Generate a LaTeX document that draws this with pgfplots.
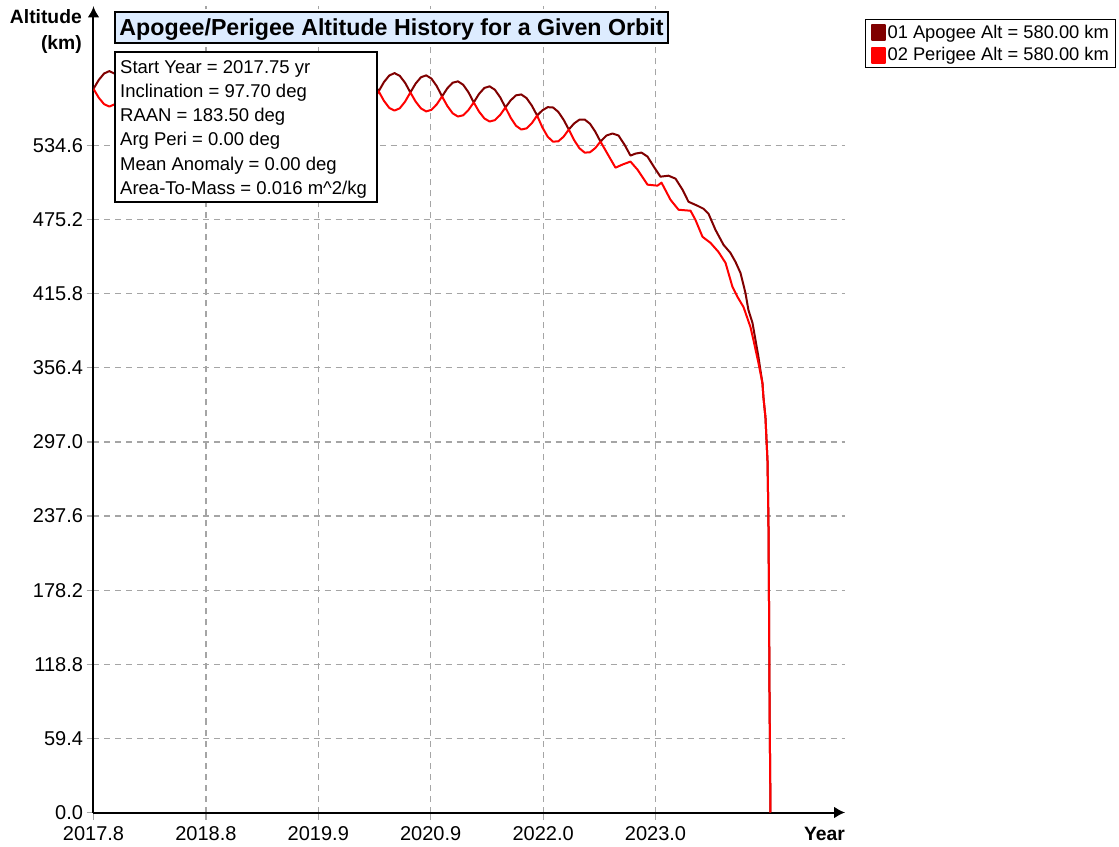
\documentclass[border=0pt]{standalone}
\usepackage{fontspec}
\setmainfont{Liberation Sans}
\usepackage{pgfplots}
\usepackage{pgfplotstable}
\pgfplotsset{compat=1.18}
\usetikzlibrary{arrows.meta}
\definecolor{apo}{RGB}{128,0,0}
\definecolor{peri}{RGB}{255,0,0}
\definecolor{titlebg}{RGB}{221,236,255}
\definecolor{gridgray}{RGB}{165,165,165}

\pgfplotstableread{
year alt
2017.750 580.0
2017.799 587.1
2017.849 592.3
2017.898 594.2
2017.947 592.2
2017.997 587.0
2018.046 579.9
2018.095 587.1
2018.145 592.4
2018.194 594.4
2018.243 592.4
2018.293 587.1
2018.342 579.8
2018.391 587.0
2018.441 592.3
2018.490 594.2
2018.539 592.2
2018.589 586.9
2018.638 579.6
2018.687 586.8
2018.737 592.1
2018.786 594.0
2018.835 592.0
2018.885 586.7
2018.934 579.4
2018.983 586.6
2019.033 591.9
2019.082 593.8
2019.131 591.8
2019.181 586.5
2019.230 579.2
2019.279 586.4
2019.329 591.7
2019.378 593.6
2019.427 591.6
2019.477 586.3
2019.526 579.0
2019.575 586.2
2019.625 591.5
2019.674 593.4
2019.723 591.4
2019.773 586.0
2019.822 578.7
2019.871 585.9
2019.921 591.2
2019.970 593.1
2020.019 591.1
2020.069 585.7
2020.118 578.4
2020.167 585.6
2020.217 590.8
2020.266 592.7
2020.315 590.7
2020.365 585.3
2020.414 578.0
2020.463 585.4
2020.513 590.7
2020.562 592.6
2020.611 590.4
2020.661 584.8
2020.710 577.1
2020.759 584.2
2020.809 589.3
2020.858 590.8
2020.907 588.2
2020.957 582.1
2021.006 573.9
2021.055 580.4
2021.105 584.9
2021.154 586.0
2021.203 583.3
2021.253 577.2
2021.302 569.1
2021.351 575.9
2021.401 580.7
2021.450 582.0
2021.499 579.3
2021.549 573.2
2021.598 565.1
2021.647 570.8
2021.697 574.8
2021.746 575.5
2021.795 572.6
2021.845 566.5
2021.894 558.6
2021.943 562.8
2021.993 565.3
2022.042 565.1
2022.091 561.6
2022.141 555.3
2022.190 547.4
2022.239 552.2
2022.289 555.3
2022.338 555.4
2022.387 552.1
2022.437 545.7
2022.486 537.7
2022.542 542.6
2022.598 544.2
2022.654 542.6
2022.710 535.3
2022.766 526.5
2022.813 528.1
2022.869 528.9
2022.925 525.7
2022.990 516.8
2023.046 509.6
2023.121 510.4
2023.187 508.0
2023.252 499.2
2023.308 489.5
2023.392 486.3
2023.448 483.9
2023.495 479.9
2023.560 467.0
2023.635 455.0
2023.700 448.5
2023.747 441.3
2023.794 432.4
2023.840 416.4
2023.868 402.7
2023.906 392.3
2023.934 378.6
2023.962 364.9
2023.980 354.5
2023.999 344.0
2024.008 332.8
2024.027 316.7
2024.037 298.2
2024.046 282.1
2024.055 233.9
2024.060 169.6
2024.065 91.6
2024.074 0.0
}\apogee

\pgfplotstableread{
year alt
2017.750 580.0
2017.799 572.9
2017.849 567.7
2017.898 565.8
2017.947 567.6
2017.997 572.8
2018.046 579.9
2018.095 572.6
2018.145 567.3
2018.194 565.4
2018.243 567.3
2018.293 572.6
2018.342 579.8
2018.391 572.5
2018.441 567.2
2018.490 565.2
2018.539 567.1
2018.589 572.4
2018.638 579.6
2018.687 572.3
2018.737 567.0
2018.786 565.0
2018.835 566.9
2018.885 572.2
2018.934 579.4
2018.983 572.1
2019.033 566.8
2019.082 564.8
2019.131 566.7
2019.181 572.0
2019.230 579.2
2019.279 571.9
2019.329 566.6
2019.378 564.6
2019.427 566.5
2019.477 571.8
2019.526 579.0
2019.575 571.7
2019.625 566.3
2019.674 564.4
2019.723 566.2
2019.773 571.5
2019.822 578.7
2019.871 571.4
2019.921 566.0
2019.970 564.1
2020.019 565.9
2020.069 571.2
2020.118 578.4
2020.167 571.1
2020.217 565.7
2020.266 563.7
2020.315 565.6
2020.365 570.8
2020.414 578.0
2020.463 570.4
2020.513 564.7
2020.562 562.6
2020.611 564.4
2020.661 569.8
2020.710 577.1
2020.759 569.8
2020.809 564.3
2020.858 561.9
2020.907 563.2
2020.957 567.6
2021.006 573.9
2021.055 566.3
2021.105 560.4
2021.154 557.8
2021.203 558.8
2021.253 563.1
2021.302 569.1
2021.351 561.8
2021.401 556.3
2021.450 553.8
2021.499 554.9
2021.549 559.1
2021.598 565.1
2021.647 556.8
2021.697 550.4
2021.746 547.4
2021.795 548.3
2021.845 552.5
2021.894 558.6
2021.943 549.1
2021.993 541.6
2022.042 537.7
2022.091 537.9
2022.141 541.6
2022.190 547.4
2022.239 539.0
2022.289 532.4
2022.338 528.9
2022.387 529.1
2022.437 532.5
2022.486 537.7
2022.561 526.5
2022.626 516.8
2022.691 519.3
2022.766 521.7
2022.832 515.2
2022.925 503.2
2023.018 502.4
2023.056 504.8
2023.140 491.1
2023.215 483.1
2023.327 482.3
2023.373 475.0
2023.439 461.4
2023.513 456.6
2023.588 449.3
2023.654 440.5
2023.719 421.2
2023.766 413.2
2023.822 405.1
2023.887 389.0
2023.915 378.6
2023.962 360.1
2023.999 344.0
2024.008 332.8
2024.027 316.7
2024.037 298.2
2024.046 282.1
2024.055 233.9
2024.060 169.6
2024.065 91.6
2024.074 0.0
}\perigee

\begin{document}
\begin{tikzpicture}
\useasboundingbox (-93.5pt,-33.5pt) rectangle (1025.5pt,812.5pt);
\begin{axis}[
  at={(0pt,0pt)}, anchor=south west,
  width=751.5pt, height=806pt, scale only axis,
  xmin=2017.75, xmax=2024.77, ymin=0, ymax=646,
  axis lines=left,
  axis line style={line width=2pt, -{Latex[length=11pt,width=12pt]}},
  xtick={2017.75,2018.80,2019.85,2020.90,2021.95,2023.00},
  xticklabels={2017.8,2018.8,2019.9,2020.9,2022.0,2023.0},
  ytick={0,59.4,118.8,178.2,237.6,297.0,356.4,415.8,475.2,534.6},
  yticklabels={0.0,59.4,118.8,178.2,237.6,297.0,356.4,415.8,475.2,534.6},
  grid=major,
  major grid style={dash pattern=on 6pt off 5pt, line width=1.2pt, color=gridgray},
  tick align=outside, major tick length=7pt,
  tick style={line width=1.2pt, color=gridgray},
  ticklabel style={font=\fontsize{20}{24}\selectfont},
  xticklabel style={yshift=-3.5pt},
  legend style={at={(1.02661,0.98412)}, anchor=north west, draw=black, line width=1.2pt,
    fill=white, font=\fontsize{18.3}{20}\selectfont, inner xsep=5pt, inner ysep=3.5pt,
    row sep=5pt, nodes={inner sep=1.5pt}},
  legend cell align=left,
  legend image code/.code={\fill[#1] (0pt,-7.5pt) rectangle (13.5pt,7.5pt);},
]
\addplot[apo, line width=2pt, line join=round] table[x=year,y=alt]{\apogee};
\addlegendentry{01 Apogee Alt = 580.00 km}
\addplot[peri, line width=2pt, line join=round] table[x=year,y=alt]{\perigee};
\addlegendentry{02 Perigee Alt = 580.00 km}
\end{axis}
% title box
\draw[line width=1.2pt, fill=titlebg] (21.5pt,769.5pt) rectangle (574.5pt,800.5pt);
\node[anchor=base, font=\bfseries\fontsize{23.2}{26}\selectfont, inner sep=0pt] at (298pt,776.5pt) {Apogee/Perigee Altitude History for a Given Orbit};
% info box
\draw[line width=1.2pt, fill=white] (21.5pt,610.5pt) rectangle (283.5pt,760.5pt);
\begin{scope}[every node/.style={anchor=base west, inner sep=0pt, font=\fontsize{18.5}{22}\selectfont}]
\node at (26.5pt,739.2pt) {Start Year = 2017.75 yr};
\node at (26.5pt,715.0pt) {Inclination = 97.70 deg};
\node at (26.5pt,690.8pt) {RAAN = 183.50 deg};
\node at (26.5pt,666.6pt) {Arg Peri = 0.00 deg};
\node at (26.5pt,642.4pt) {Mean Anomaly = 0.00 deg};
\node at (26.5pt,618.2pt) {Area-To-Mass = 0.016 m\^{}2/kg};
\end{scope}
% axis labels
\begin{scope}[every node/.style={anchor=base east, inner sep=0pt, font=\bfseries\fontsize{19.3}{22}\selectfont}]
\node at (-11.5pt,789.2pt) {Altitude};
\node at (-11.5pt,762.5pt) {(km)};
\node at (751.5pt,-27.5pt) {Year};
\end{scope}
\end{tikzpicture}
\end{document}
